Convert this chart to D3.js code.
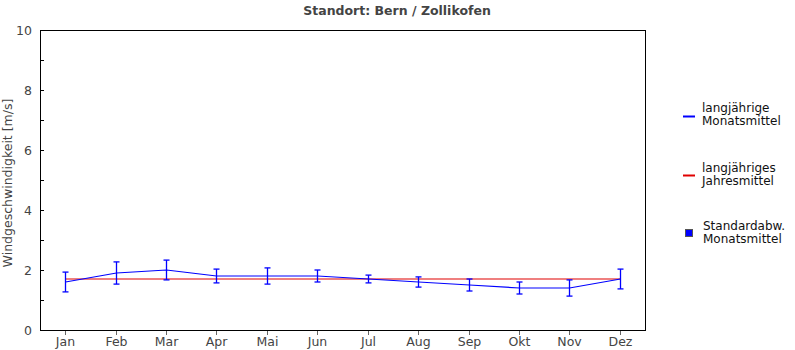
<!DOCTYPE html>
<html><head><meta charset="utf-8">
<script src="https://cdn.jsdelivr.net/npm/d3@7"></script>
<style>body{margin:0;background:#fff}svg{display:block}</style>
</head><body>
<svg id="c" width="795" height="350"></svg>
<script>
const months = ["Jan","Feb","Mar","Apr","Mai","Jun","Jul","Aug","Sep","Okt","Nov","Dez"];
const monthMean = [1.6,1.9,2.0,1.8,1.8,1.8,1.7,1.6,1.5,1.4,1.4,1.7];
const monthStd = [0.33,0.37,0.33,0.23,0.27,0.2,0.13,0.17,0.2,0.2,0.27,0.33];
const yearMean = 1.7;
const yTicks = [0,2,4,6,8,10];
const title = "Standort: Bern / Zollikofen";
const yLabel = "Windgeschwindigkeit [m/s]";

const svg = d3.select("#c");
const L=40,R=645,T=30,B=330;
const x = d3.scaleBand().domain(months).range([L,R]).padding(0);
const cx = m => Math.round(x(m)+x.bandwidth()/2)+0.5;
const y = d3.scaleLinear().domain([0,10]).range([B,T]);
const font = "DejaVu Sans, sans-serif";

svg.append("text").attr("x",397).attr("y",15).attr("text-anchor","middle")
  .attr("font-family",font).attr("font-weight","bold").attr("font-size",12.5).attr("fill","#444").text(title);

// y axis ticks (inward)
const minor = d3.range(1,10,2);
svg.append("g").selectAll("line").data(yTicks.concat(minor)).join("line")
  .attr("x1",L).attr("x2",d=>L+4).attr("y1",d=>Math.round(y(d))+0.5).attr("y2",d=>Math.round(y(d))+0.5)
  .attr("stroke","#000").attr("stroke-width",1);
svg.append("g").selectAll("text").data(yTicks).join("text")
  .attr("x",32).attr("y",d=>y(d)+4.5).attr("text-anchor","end")
  .attr("font-family",font).attr("font-size",12.5).attr("fill","#444").text(d=>d);

// x axis ticks (outward)
svg.append("g").selectAll("line").data(months).join("line")
  .attr("x1",cx).attr("x2",cx).attr("y1",B).attr("y2",B+5).attr("stroke","#666");
svg.append("g").selectAll("text").data(months).join("text")
  .attr("x",d=>cx(d)).attr("y",B+16).attr("text-anchor","middle")
  .attr("font-family",font).attr("font-size",12.5).attr("fill","#444").text(d=>d);

svg.append("text").attr("transform",`translate(12,${(T+B)/2+3}) rotate(-90)`).attr("text-anchor","middle")
  .attr("font-family",font).attr("font-size",12.5).attr("fill","#444").text(yLabel);

// year mean line
svg.append("line").attr("x1",cx(months[0])).attr("x2",cx(months[11]))
  .attr("y1",y(yearMean)).attr("y2",y(yearMean)).attr("stroke","#e00000").attr("stroke-width",1.2);

// month mean line
svg.append("path").datum(months.map((m,i)=>[cx(m),y(monthMean[i])]))
  .attr("d",d3.line()).attr("fill","none").attr("stroke","#0000ff").attr("stroke-width",1.2);

// error bars
const eb = svg.append("g").attr("stroke","#0000ff").attr("stroke-width",1.3);
months.forEach((m,i)=>{
  const xx=cx(m), t=y(monthMean[i]+monthStd[i]), b=y(monthMean[i]-monthStd[i]);
  eb.append("line").attr("x1",xx).attr("x2",xx).attr("y1",t).attr("y2",b);
  eb.append("line").attr("x1",xx-3).attr("x2",xx+3).attr("y1",t).attr("y2",t);
  eb.append("line").attr("x1",xx-3).attr("x2",xx+3).attr("y1",b).attr("y2",b);
});

// frame
svg.append("rect").attr("x",L+0.5).attr("y",T+0.5).attr("width",R-L).attr("height",B-T)
  .attr("fill","none").attr("stroke","#000").attr("stroke-width",1);

// legend
const lg = svg.append("g").attr("font-family",font).attr("font-size",12).attr("fill","#111");
function ltext(x0,y0,lines){lines.forEach((s,k)=>lg.append("text").attr("x",x0).attr("y",y0+k*12.5).text(s));}
lg.append("line").attr("x1",683).attr("x2",695).attr("y1",116.5).attr("y2",116.5).attr("stroke","#0000ff").attr("stroke-width",2);
ltext(702,112,["langjährige","Monatsmittel"]);
lg.append("line").attr("x1",683).attr("x2",695).attr("y1",175.5).attr("y2",175.5).attr("stroke","#e00000").attr("stroke-width",2);
ltext(702,172,[" langjähriges"," Jahresmittel"].map(s=>s.trim()));
lg.append("rect").attr("x",685.5).attr("y",229.5).attr("width",7).attr("height",7).attr("fill","#0000ff").attr("stroke","#555");
ltext(703,230,["Standardabw.","Monatsmittel"]);
</script>
</body></html>
